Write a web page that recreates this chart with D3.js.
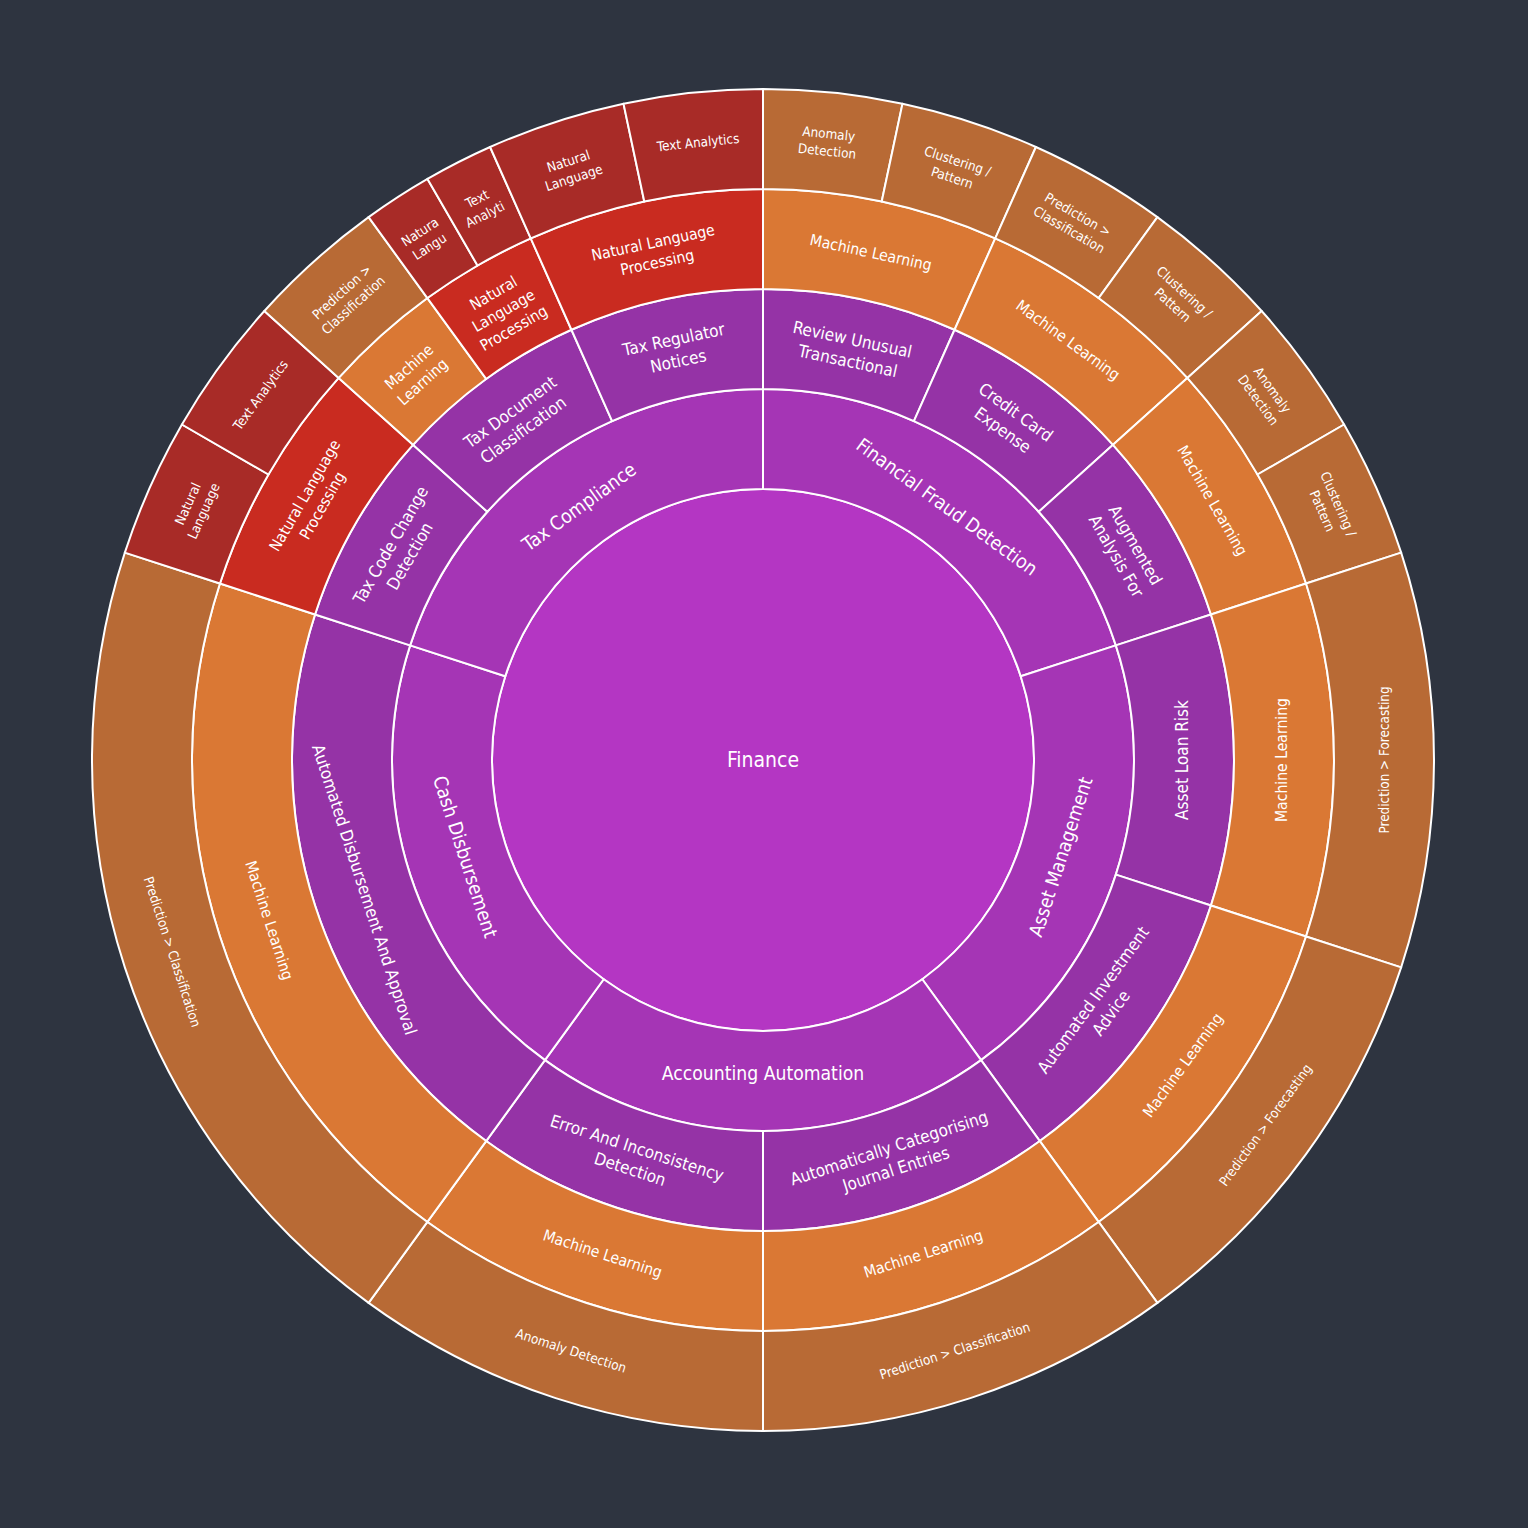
<!DOCTYPE html>
<html>
<head>
<meta charset="utf-8">
<script src="https://cdn.jsdelivr.net/npm/d3@7"></script>
<style>
  html, body { margin: 0; padding: 0; background: #2e3440; }
  svg { display: block; }
</style>
</head>
<body>
<svg id="chart" width="1528" height="1528"></svg>
<script>
// ---------------- DATA ----------------
const rootLabel = "Finance";

const leafCategory = [
  "Financial Fraud Detection", "Financial Fraud Detection", "Financial Fraud Detection",
  "Financial Fraud Detection", "Financial Fraud Detection", "Financial Fraud Detection",
  "Asset Management", "Asset Management",
  "Accounting Automation", "Accounting Automation",
  "Cash Disbursement",
  "Tax Compliance", "Tax Compliance", "Tax Compliance", "Tax Compliance",
  "Tax Compliance", "Tax Compliance", "Tax Compliance"
];
const leafUseCase = [
  "Review Unusual Transactional", "Review Unusual Transactional",
  "Credit Card Expense", "Credit Card Expense",
  "Augmented Analysis For", "Augmented Analysis For",
  "Asset Loan Risk", "Automated Investment Advice",
  "Automatically Categorising Journal Entries", "Error And Inconsistency Detection",
  "Automated Disbursement And Approval",
  "Tax Code Change Detection", "Tax Code Change Detection",
  "Tax Document Classification", "Tax Document Classification", "Tax Document Classification",
  "Tax Regulator Notices", "Tax Regulator Notices"
];
const leafTechnique = [
  "Machine Learning", "Machine Learning", "Machine Learning", "Machine Learning",
  "Machine Learning", "Machine Learning", "Machine Learning", "Machine Learning",
  "Machine Learning", "Machine Learning", "Machine Learning",
  "Natural Language Processing", "Natural Language Processing",
  "Machine Learning", "Natural Language Processing", "Natural Language Processing",
  "Natural Language Processing", "Natural Language Processing"
];
const leafMethod = [
  "Anomaly Detection", "Clustering / Pattern",
  "Prediction > Classification", "Clustering / Pattern",
  "Anomaly Detection", "Clustering / Pattern",
  "Prediction > Forecasting", "Prediction > Forecasting",
  "Prediction > Classification", "Anomaly Detection",
  "Prediction > Classification",
  "Natural Language", "Text Analytics",
  "Prediction > Classification", "Natural Language", "Text Analytics",
  "Natural Language", "Text Analytics"
];
const leafValue = [1, 1, 1, 1, 1, 1, 3, 3, 3, 3, 6, 1, 1, 1, 0.5, 0.5, 1, 1];

// Displayed (wrapped / clipped) label text, keyed by node path
const displayLabels = {
  "Financial Fraud Detection|Review Unusual Transactional": ["Review Unusual", "Transactional"],
  "Financial Fraud Detection|Credit Card Expense": ["Credit Card", "Expense"],
  "Financial Fraud Detection|Augmented Analysis For": ["Augmented", "Analysis For"],
  "Financial Fraud Detection|Review Unusual Transactional|Machine Learning|Anomaly Detection": ["Anomaly", "Detection"],
  "Financial Fraud Detection|Review Unusual Transactional|Machine Learning|Clustering / Pattern": ["Clustering /", "Pattern"],
  "Financial Fraud Detection|Credit Card Expense|Machine Learning|Prediction > Classification": ["Prediction >", "Classification"],
  "Financial Fraud Detection|Credit Card Expense|Machine Learning|Clustering / Pattern": ["Clustering /", "Pattern"],
  "Financial Fraud Detection|Augmented Analysis For|Machine Learning|Anomaly Detection": ["Anomaly", "Detection"],
  "Financial Fraud Detection|Augmented Analysis For|Machine Learning|Clustering / Pattern": ["Clustering /", "Pattern"],
  "Asset Management|Automated Investment Advice": ["Automated Investment", "Advice"],
  "Accounting Automation|Automatically Categorising Journal Entries": ["Automatically Categorising", "Journal Entries"],
  "Accounting Automation|Error And Inconsistency Detection": ["Error And Inconsistency", "Detection"],
  "Tax Compliance|Tax Code Change Detection": ["Tax Code Change", "Detection"],
  "Tax Compliance|Tax Code Change Detection|Natural Language Processing": ["Natural Language", "Processing"],
  "Tax Compliance|Tax Code Change Detection|Natural Language Processing|Natural Language": ["Natural", "Language"],
  "Tax Compliance|Tax Document Classification": ["Tax Document", "Classification"],
  "Tax Compliance|Tax Document Classification|Machine Learning": ["Machine", "Learning"],
  "Tax Compliance|Tax Document Classification|Machine Learning|Prediction > Classification": ["Prediction >", "Classification"],
  "Tax Compliance|Tax Document Classification|Natural Language Processing": ["Natural", "Language", "Processing"],
  "Tax Compliance|Tax Document Classification|Natural Language Processing|Natural Language": ["Natura", "Langu"],
  "Tax Compliance|Tax Document Classification|Natural Language Processing|Text Analytics": ["Text", "Analyti"],
  "Tax Compliance|Tax Regulator Notices": ["Tax Regulator", "Notices"],
  "Tax Compliance|Tax Regulator Notices|Natural Language Processing": ["Natural Language", "Processing"],
  "Tax Compliance|Tax Regulator Notices|Natural Language Processing|Natural Language": ["Natural", "Language"]
};

// ---------------- STYLE ----------------
const W = 1528, H = 1528;
const cx = 763, cy = 760;
const depthColors = ["#b436c3", "#a535b5", "#9533a6"];
const techColors = { "Machine Learning": "#da7834", "Natural Language Processing": "#c92b20" };
const methodColors = { "Machine Learning": "#b86a35", "Natural Language Processing": "#a82b27" };
const fontSizes = [21, 19.2, 17, 15.6, 13.4];
const labelRadialShift = [0, -8, -2, -2, 0];
const fontFamily = "'DejaVu Sans Condensed', 'DejaVu Sans', Verdana, sans-serif";

// ---------------- BUILD HIERARCHY ----------------
const rootData = { name: rootLabel, children: [] };
leafValue.forEach((v, i) => {
  const path = [leafCategory[i], leafUseCase[i], leafTechnique[i], leafMethod[i]];
  let node = rootData;
  path.forEach((name, d) => {
    node.children = node.children || [];
    let child = node.children.find(c => c.name === name);
    if (!child) {
      child = { name };
      node.children.push(child);
    }
    if (d === path.length - 1) child.value = v;
    node = child;
  });
});

const root = d3.hierarchy(rootData).sum(d => d.children ? 0 : (d.value || 0));
d3.partition().size([2 * Math.PI, 5])(root);

const rScale = d3.scaleLinear().domain([0, 1, 5]).range([0, 271, 671]);

const arc = d3.arc()
  .startAngle(d => d.x0)
  .endAngle(d => d.x1)
  .innerRadius(d => rScale(d.y0))
  .outerRadius(d => rScale(d.y1));

const svg = d3.select("#chart");
svg.append("rect").attr("width", W).attr("height", H).attr("fill", "#2e3440");

const g = svg.append("g").attr("transform", `translate(${cx},${cy})`);

function pathKey(d) {
  return d.ancestors().reverse().slice(1).map(n => n.data.name).join("|");
}
function techOf(d) {
  const a = d.ancestors().reverse();
  return a[3] ? a[3].data.name : null;
}
function fillOf(d) {
  if (d.depth <= 2) return depthColors[d.depth];
  if (d.depth === 3) return techColors[d.data.name];
  return methodColors[techOf(d)];
}

const nodes = root.descendants();

g.selectAll("path.seg")
  .data(nodes)
  .join("path")
  .attr("class", "seg")
  .attr("d", arc)
  .attr("fill", fillOf)
  .attr("stroke", "#ffffff")
  .attr("stroke-width", 2)
  .attr("stroke-linejoin", "round");

// ---------------- LABELS ----------------
const labels = g.selectAll("text.lbl")
  .data(nodes)
  .join("text")
  .attr("class", "lbl")
  .attr("fill", "#ffffff")
  .attr("font-family", fontFamily)
  .attr("font-size", d => fontSizes[d.depth])
  .attr("text-anchor", "middle")
  .attr("transform", d => {
    if (d.depth === 0) return "translate(0,0)";
    const a = (d.x0 + d.x1) / 2;
    const r = rScale((d.y0 + d.y1) / 2) + labelRadialShift[d.depth];
    const x = r * Math.sin(a), y = -r * Math.cos(a);
    let deg = a * 180 / Math.PI;
    if (deg > 270) deg -= 360;
    else if (deg >= 90) deg -= 180;
    return `translate(${x.toFixed(2)},${y.toFixed(2)}) rotate(${deg.toFixed(2)})`;
  });

labels.each(function(d) {
  const lines = displayLabels[pathKey(d)] || [d.data.name];
  const fs = fontSizes[d.depth];
  const lh = fs * 1.3;
  const t = d3.select(this);
  lines.forEach((ln, i) => {
    t.append("tspan")
      .attr("x", 0)
      .attr("y", (i - (lines.length - 1) / 2) * lh + fs * 0.35)
      .text(ln);
  });
});
</script>
</body>
</html>
